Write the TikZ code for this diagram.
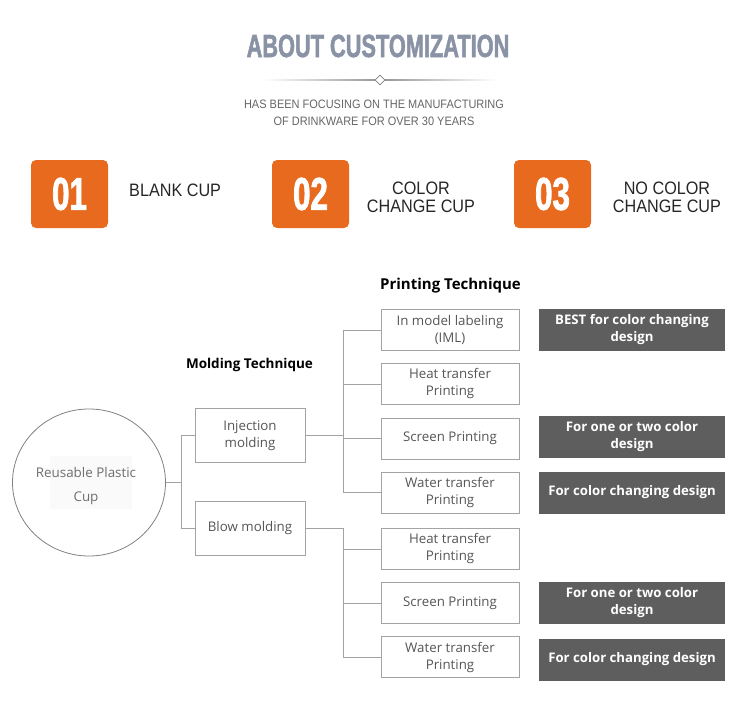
\documentclass[tikz,border=0pt]{standalone}
\usepackage{fontspec}
\setmainfont{Open Sans}
\newfontfamily\headfont{Liberation Sans}[FakeStretch=0.68,FakeBold=1.6]
\newfontfamily\capfont{Liberation Sans}[FakeStretch=0.9]
\usetikzlibrary{shapes.geometric}
\definecolor{titlegray}{HTML}{8A93A6}
\definecolor{orangebox}{HTML}{E86A1E}
\definecolor{boxline}{HTML}{A3A3A3}
\definecolor{txtgray}{HTML}{555555}
\definecolor{darkbox}{HTML}{5E5E5E}
\tikzset{
  titletext/.style={text=titlegray,font={\headfont\bfseries\fontsize{32pt}{34pt}\selectfont}},
  subtext/.style={text=txtgray!90,align=center,font={\capfont\fontsize{12.2pt}{17pt}\selectfont}},
  gem/.style={diamond,draw=gray,fill=white,line width=0.8pt,minimum size=10pt},
  numbox/.style={fill=orangebox,rounded corners=5pt,minimum width=77pt,minimum height=68pt,
    text=white,font={\headfont\bfseries\fontsize{46pt}{46pt}\selectfont}},
  captext/.style={text=black!85,align=center,font={\capfont\fontsize{18pt}{18pt}\selectfont}},
  headtext/.style={text=black,font={\bfseries\fontsize{13.5pt}{16pt}\selectfont}},
  cupnode/.style={ellipse,draw=gray,line width=0.8pt,minimum width=153pt,minimum height=147pt},
  cuptext/.style={text=txtgray!85,align=center,font={\fontsize{13.4pt}{24pt}\selectfont}},
  mbox/.style={draw=boxline,line width=0.8pt,minimum width=110pt,minimum height=54pt,align=center,
    text=txtgray,font={\fontsize{13.3pt}{17pt}\selectfont}},
  pbox/.style={draw=boxline,line width=0.8pt,minimum width=138pt,minimum height=41pt,align=center,
    text=txtgray,font={\fontsize{13.3pt}{17pt}\selectfont}},
  dbox/.style={fill=darkbox,minimum width=186pt,minimum height=42pt,align=center,
    text=white,font={\bfseries\fontsize{13.2pt}{17pt}\selectfont}},
  link/.style={draw=boxline,line width=0.8pt}}

\begin{document}
\begin{tikzpicture}[x=1pt,y=-1pt]
\tikzstyle{every node}+=[inner sep=0pt]
\path[use as bounding box] (0,0) rectangle (750,710);
\node[titletext] (title) at (378,46) {ABOUT CUSTOMIZATION};
\shade[left color=white,right color=gray!80] (263,79.6) rectangle (375,80.6);
\shade[left color=gray!80,right color=white] (385,79.6) rectangle (497,80.6);
\node[gem] (gem) at (380,80) {};
\node[subtext] (sub) at (374,113) {HAS BEEN FOCUSING ON THE MANUFACTURING\\OF DRINKWARE FOR OVER 30 YEARS};
\node[numbox] (n1) at (69.5,194) {01};
\node[numbox] (n2) at (310.5,194) {02};
\node[numbox] (n3) at (552.5,194) {03};
\node[captext,anchor=west] (c1) at (129,190) {BLANK CUP};
\node[captext] (c2) at (421,197) {COLOR\\CHANGE CUP};
\node[captext] (c3) at (667,197) {NO COLOR\\CHANGE CUP};
\node[headtext,font={\bfseries\fontsize{15pt}{16pt}\selectfont}] (ptech) at (450.5,286) {Printing Technique};
\node[headtext] (mtech) at (249.5,365) {Molding Technique};
\node[cupnode] (cup) at (89,482.5) {};
\fill[gray!4] (50,456) rectangle (132,509);
\node[cuptext] (cupt) at (86,486) {Reusable Plastic\\Cup};
\node[mbox] (inj) at (250,435.5) {Injection\\molding};
\node[mbox] (blow) at (250,528.5) {Blow molding};
\node[pbox] (p1) at (450,330) {In model labeling\\(IML)};
\node[pbox] (p2) at (450,384) {Heat transfer\\Printing};
\node[pbox] (p3) at (450,438.5) {Screen Printing};
\node[pbox] (p4) at (450,492.5) {Water transfer\\Printing};
\node[pbox] (p5) at (450,549) {Heat transfer\\Printing};
\node[pbox] (p6) at (450,603) {Screen Printing};
\node[pbox] (p7) at (450,657) {Water transfer\\Printing};
\node[dbox] (d1) at (632,329.5) {BEST for color changing\\design};
\node[dbox] (d3) at (632,436.5) {For one or two color\\design};
\node[dbox] (d4) at (632,492.5) {For color changing design};
\node[dbox] (d6) at (632,603) {For one or two color\\design};
\node[dbox] (d7) at (632,659.5) {For color changing design};
\draw[link] (cup.east) -- ++(15,0) |- (inj.west);
\draw[link] (cup.east) -- ++(15,0) |- (blow.west);
\draw[link] (inj.east) -- ++(38,0) |- (p1.west);
\draw[link] (inj.east) -- ++(38,0) |- (p2.west);
\draw[link] (inj.east) -- ++(38,0) |- (p3.west);
\draw[link] (inj.east) -- ++(38,0) |- (p4.west);
\draw[link] (blow.east) -- ++(38,0) |- (p5.west);
\draw[link] (blow.east) -- ++(38,0) |- (p6.west);
\draw[link] (blow.east) -- ++(38,0) |- (p7.west);
\end{tikzpicture}
\end{document}
